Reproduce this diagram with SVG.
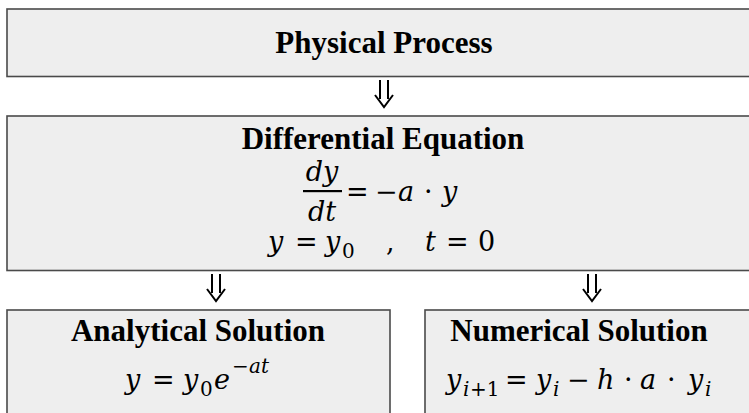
<svg xmlns="http://www.w3.org/2000/svg" width="749" height="413" viewBox="0 0 749 413">
<style>
.box{fill:#eeeeee;stroke:#4a4a4a;stroke-width:1.6}
.ttl{font-family:"Liberation Serif","Times New Roman",serif;font-weight:bold;font-size:31px;fill:#000;text-anchor:middle}
.m{font-family:"DejaVu Serif","Liberation Serif",serif;font-style:italic;font-size:27px;fill:#000}
.u{font-style:normal}
.s{font-size:20px}
.arr{fill:none;stroke:#000;stroke-width:2}
</style>
<rect width="749" height="413" fill="#ffffff"/>
<g id="physical">
<rect class="box" x="7" y="9" width="760" height="67.5"/>
<text class="ttl" x="384" y="53">Physical Process</text>
</g>
<g id="differential">
<rect class="box" x="7" y="116" width="760" height="154.5"/>
<text class="ttl" x="383" y="149">Differential Equation</text>
<text class="m" x="322" y="181" text-anchor="middle">dy</text>
<rect x="303" y="190" width="39" height="2.2" fill="#000"/>
<text class="m" x="322" y="221" text-anchor="middle">dt</text>
<text class="m" y="201"><tspan class="u" x="346">=</tspan><tspan class="u" x="375">−</tspan><tspan x="398">a</tspan><tspan class="u" x="424">·</tspan><tspan x="442">y</tspan></text>
<text class="m" y="251"><tspan x="268">y</tspan><tspan class="u" x="295">=</tspan><tspan x="325">y</tspan><tspan class="u s" x="342" y="258">0</tspan><tspan class="u" x="386" y="251">,</tspan><tspan x="425">t</tspan><tspan class="u" x="446">=</tspan><tspan class="u" x="478">0</tspan></text>
</g>
<g id="analytical">
<rect class="box" x="7" y="310" width="383" height="120"/>
<text class="ttl" x="198" y="341">Analytical Solution</text>
<text class="m" y="389"><tspan x="125">y</tspan><tspan class="u" x="152">=</tspan><tspan x="183">y</tspan><tspan class="u s" x="200" y="396">0</tspan><tspan x="214" y="389">e</tspan><tspan class="u s" x="232" y="373">−</tspan><tspan class="s" x="249" y="373">at</tspan></text>
</g>
<g id="numerical">
<rect class="box" x="425" y="310" width="340" height="120"/>
<text class="ttl" x="579" y="341">Numerical Solution</text>
<text class="m" y="389"><tspan x="446">y</tspan><tspan class="s" x="463" y="396">i</tspan><tspan class="u s" x="470" y="396">+1</tspan><tspan class="u" x="505" y="389">=</tspan><tspan x="536">y</tspan><tspan class="s" x="553" y="396">i</tspan><tspan class="u" x="567" y="389">−</tspan><tspan x="597">h</tspan><tspan class="u" x="624">·</tspan><tspan x="640">a</tspan><tspan class="u" x="667">·</tspan><tspan x="688">y</tspan><tspan class="s" x="705" y="396">i</tspan></text>
</g>
<g id="connectors">
<path class="arr" d="M380 80 V99 M388 80 V99 M375 95 L384 107 L393 95"/>
<path class="arr" d="M212 274 V293 M220 274 V293 M207 289 L216 301 L225 289"/>
<path class="arr" d="M588 274 V293 M596 274 V293 M583 289 L592 301 L601 289"/>
</g>
</svg>
